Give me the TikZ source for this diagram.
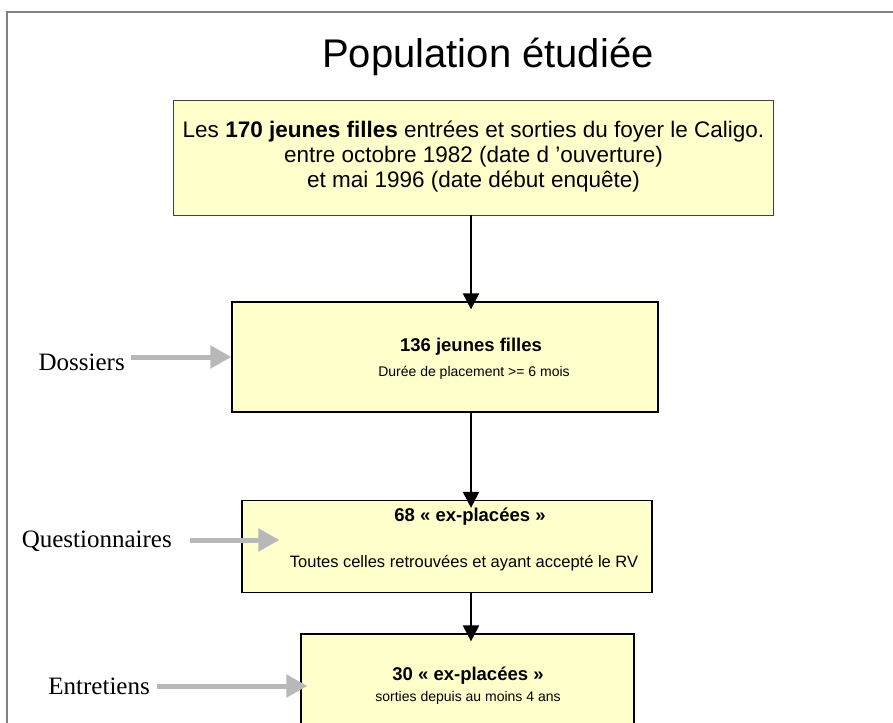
\documentclass[tikz,border=0pt]{standalone}
\usepackage{fontspec}
\setmainfont{Liberation Sans}
\newfontfamily\timesf{Liberation Serif}
\usetikzlibrary{arrows.meta}
\definecolor{boxfill}{HTML}{FFFFCC}
\definecolor{framegray}{HTML}{808080}
\definecolor{arrgray}{HTML}{B8B8B8}
\begin{document}
\begin{tikzpicture}[x=1pt,y=-1pt,
  box/.style={draw=black, line width=1.2pt, fill=boxfill, inner sep=0pt},
  topbox/.style={draw=black!75, line width=1pt, fill=boxfill, inner sep=0pt},
  txt/.style={inner sep=0pt, anchor=center, align=center},
  flow/.style={-{Triangle[length=16pt,width=16pt]}, line width=2pt, black},
  side/.style={-{Triangle[length=21pt,width=22pt]}, line width=5pt, arrgray},
  lab/.style={font=\timesf\fontsize{25}{28}\selectfont, inner sep=0pt, anchor=east}
]
\useasboundingbox (0,0) rectangle (893,722);
\clip (0,0) rectangle (893,722);
\draw[framegray, line width=1.5pt] (7,740) -- (7,12) -- (900,12);
\node[txt, font=\fontsize{40}{46}\selectfont] (title) at (488,57) {Population étudiée};

% boxes
\node[topbox, minimum width=600pt, minimum height=114pt] (b1) at (473.5,158) {};
\node[box, minimum width=426pt, minimum height=110pt] (b2) at (445,357) {};
\node[box, minimum width=410pt, minimum height=92pt] (b3) at (447,546.5) {};
\node[box, minimum width=333pt, minimum height=110pt] (b4) at (467.5,689) {};

% texts
\node[txt, font=\fontsize{22.5}{25}\selectfont] (t1) at (473.5,157)
  {Les \textbf{170 jeunes filles} entrées et sorties du foyer le Caligo.\\
   entre octobre 1982 (date d 'ouverture)\\
   et mai 1996 (date début enquête)};
\node[txt, font=\bfseries\fontsize{18.5}{21}\selectfont] (t2a) at (471,347) {136 jeunes filles};
\node[txt, font=\fontsize{14}{16}\selectfont] (t2b) at (474,373) {Durée de placement >= 6 mois};
\node[txt, font=\bfseries\fontsize{18.5}{21}\selectfont] (t3a) at (470,517) {68 « ex-placées »};
\node[txt, font=\fontsize{16.5}{18}\selectfont] (t3b) at (464,563) {Toutes celles retrouvées et ayant accepté le RV};
\node[txt, font=\bfseries\fontsize{18.5}{21}\selectfont] (t4a) at (468,676) {30 « ex-placées »};
\node[txt, font=\fontsize{14}{16}\selectfont] (t4b) at (468,698) {sorties depuis au moins 4 ans};

% black flow arrows
\coordinate (a1s) at (471,215);
\draw[flow, shorten >=-8pt] (a1s) -- (a1s |- b2.north);
\draw[flow, shorten >=-8pt] (b2.south -| a1s) -- (b3.north -| a1s);
\draw[flow, shorten >=-8pt] (b3.south -| a1s) -- (b4.north -| a1s);

% side labels
\node[lab] (dos) at (125,362) {Dossiers};
\node[lab] (que) at (172,541) {Questionnaires};
\node[lab] (ent) at (150,686) {Entretiens};
\draw[side, shorten <=6pt] (dos.east |- b2.west) -- (b2.west);
\draw[side, shorten <=18pt, shorten >=-38pt] (que.east |- 0,540) -- (b3.west |- 0,540);
\draw[side, shorten <=7pt, shorten >=-7pt] (ent.east |- 0,686) -- (b4.west |- 0,686);
\end{tikzpicture}
\end{document}
